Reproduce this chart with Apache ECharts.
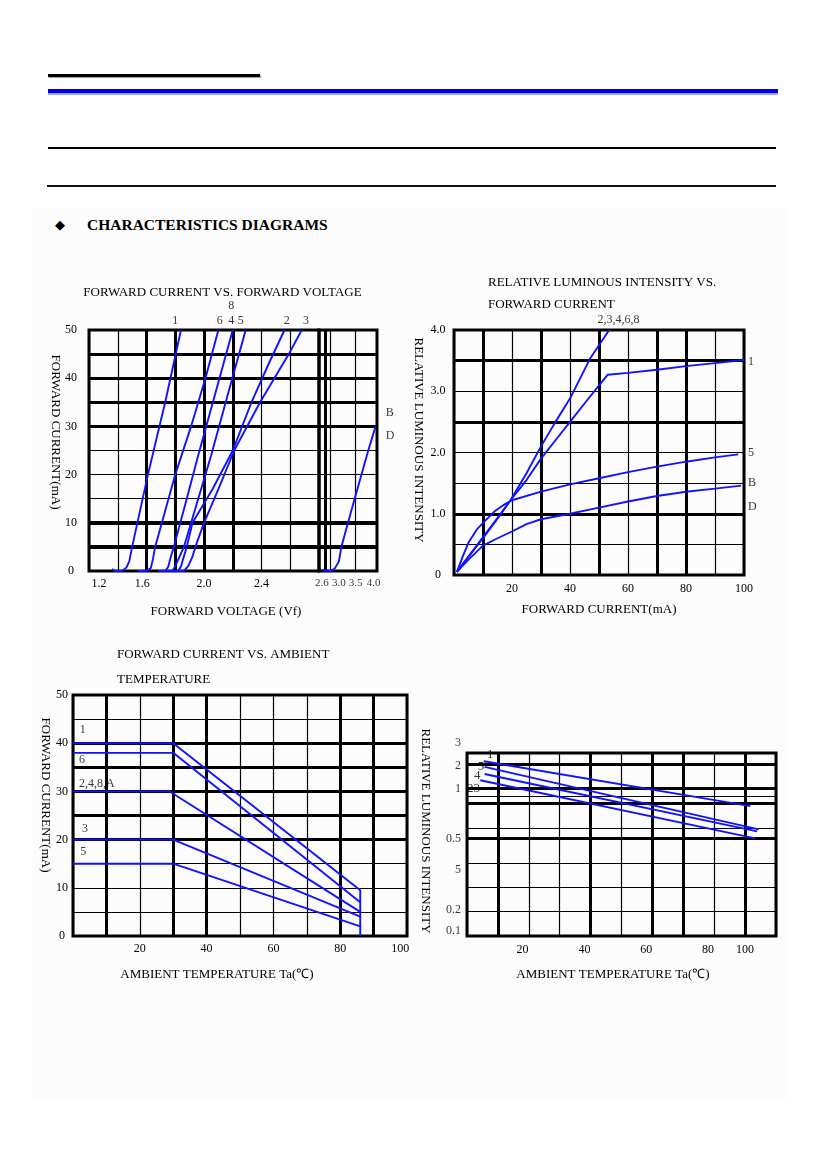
<!DOCTYPE html>
<html>
<head>
<meta charset="utf-8">
<script src="https://cdn.jsdelivr.net/npm/echarts@6/dist/echarts.min.js"></script>
<style>
html, body { margin: 0; padding: 0; background: #fff; }
#page { position: relative; width: 826px; height: 1169px; overflow: hidden; }
.bar { position: absolute; }
#heading { position: absolute; left: 87px; top: 216px; font: bold 15.5px "Liberation Serif", "Times New Roman", serif; color: #000; }
#diamond { position: absolute; left: 55px; top: 217px; font: 13px "DejaVu Sans", sans-serif; color: #000; }
#chart { position: absolute; left: 0; top: 0; width: 826px; height: 1169px; }
</style>
</head>
<body>
<div id="page">
  <div class="bar" style="left:48px;top:74px;width:212px;height:3px;background:#000;box-shadow:1px 1px 1px #999"></div>
  <div class="bar" style="left:48px;top:89px;width:730px;height:4px;background:#0000ee"></div>
  <div class="bar" style="left:48px;top:93px;width:730px;height:2px;background:#a0a0ff"></div>
  <div class="bar" style="left:48px;top:147px;width:728px;height:2px;background:#000"></div>
  <div class="bar" style="left:47px;top:185px;width:729px;height:2px;background:#111"></div>
  <div class="bar" style="left:33px;top:208px;width:756px;height:890px;background:#fcfcfc"></div>
  <div id="diamond">◆</div>
  <div id="heading">CHARACTERISTICS DIAGRAMS</div>
  <div id="chart"></div>
</div>
<script>
// ---------- chart 1: forward current (mA) vs forward voltage (V) ----------
const vfCurve1  = [[1.36,0.4],[1.38,0],[1.43,0],[1.46,0.7],[1.48,2],[1.50,5],[1.61,20],[1.73,35],[1.84,50]];
const vfCurve6  = [[1.54,0],[1.60,0],[1.63,0.6],[1.645,2.5],[1.66,5],[1.80,20],[1.91,30],[2.01,40],[2.10,50]];
const vfCurve48 = [[1.68,0],[1.73,0],[1.75,0.8],[1.77,3],[1.79,5],[1.88,15],[1.96,24],[2.08,37],[2.20,50]];
const vfCurve5  = [[1.72,0],[1.78,0],[1.80,1],[1.83,3],[1.86,5],[1.96,15],[2.05,24],[2.16,36],[2.29,50]];
const vfCurve2  = [[1.76,0],[1.82,0],[1.84,1],[1.86,3],[1.88,5],[1.92,10],[2.06,17],[2.20,25],[2.33,35],[2.45,43],[2.56,50]];
const vfCurve3  = [[1.80,0],[1.86,0],[1.89,1],[1.92,3],[1.94,5],[2.00,10],[2.10,17],[2.21,25],[2.39,35],[2.59,45],[2.68,50]];
const vfCurveBD = [[2.55,0.2],[2.60,0],[2.80,0],[2.92,0.5],[3.04,2],[3.11,5],[3.30,10],[3.49,15],[3.88,25],[4.09,30]];
// the voltage axis is broken: left part 1.2-2.8, right part 2.47-4.13
const vfTickText  = ['1.2','1.6','2.0','2.4'];
const vfTickAt    = [1.27,1.57,2.0,2.4];
const vfTickTextB = ['2.6','3.0','3.5','4.0'];
const vfTickAtB   = [2.55,3.04,3.52,4.03];
const vfThickV  = [1.6,1.8,2.0,2.2];
const vfThickVB = [2.64];
const vfThinVB  = [2.8,3.5];
const vfThickH  = [30,35,40,45];
const vfHeavyH  = [5,10];
const vfTags  = [['1',1.80,52],['6',2.11,52],['4',2.19,52],['5',2.255,52],['2',2.575,52],['3',2.71,52],['8',2.19,55]];
const vfTagsB = [['B',4.38,32.8],['D',4.38,28]];

// ---------- chart 2: relative luminous intensity vs forward current (mA) ----------
const ifLum23468 = [[1,0.05],[5,0.3],[10,0.62],[15,0.93],[19.5,1.22],[25,1.66],[30,2.1],[35,2.5],[40,2.88],[47,3.54],[53.5,4.0]];
const ifLum1 = [[1,0.05],[5,0.3],[10,0.6],[15,0.92],[19.5,1.22],[25,1.55],[30,1.9],[35,2.2],[40,2.5],[45,2.8],[53,3.27],[60,3.3],[70,3.35],[80,3.41],[90,3.46],[100,3.51]];
const ifLum5 = [[1,0.05],[3,0.3],[5,0.53],[8,0.75],[10,0.85],[14,1.04],[17,1.14],[20,1.22],[30,1.36],[40,1.48],[50,1.58],[60,1.68],[70,1.77],[80,1.85],[90,1.92],[98,1.97]];
const ifLumBD = [[1,0.05],[5,0.25],[10,0.48],[15,0.6],[20,0.71],[25,0.83],[30,0.91],[40,1.0],[50,1.1],[60,1.2],[70,1.29],[80,1.36],[90,1.41],[99,1.46]];
const ifThickV = [10,30,50,70,80];
const ifThickH = [1.0,2.5,3.5];
const ifTagsCenter = [['2,3,4,6,8',56.7,4.16]];
const ifTagsLeft = [['1',101.4,3.48],['5',101.4,1.99],['B',101.4,1.51],['D',101.4,1.11]];

// ---------- chart 3: forward current (mA) vs ambient temperature (C) ----------
const taCur1    = [[0,40],[30,40],[86,9.5],[86,0]];
const taCur6    = [[0,38],[30,38],[86,7]];
const taCur248A = [[0,30],[29,30],[30,29.5],[86,5]];
const taCur3    = [[0,20],[30,20],[86,4]];
const taCur5    = [[0,15],[30,15],[86,2]];
const taThickV = [10,30,40,80,90];
const taThickH = [20,25,30,35,40];
const taTickText = ['20','40','60','80','100'];
const taTickAt   = [20,40,60,80,98];
const taTags = [['1',2.0,42.7],['6',1.8,36.5],['2,4,8,A',1.8,31.5],['3',2.7,22.3],['5',2.2,17.5]];

// ---------- chart 4: relative luminous intensity vs ambient temperature (C) ----------
const ambLum1  = [[5.4,2.13],[91.7,0.82]];
const ambLum5  = [[5.7,1.88],[94.4,0.59]];
const ambLum4  = [[5.7,1.58],[93.9,0.57]];
const ambLum23 = [[4.3,1.32],[93.3,0.50]];
// the printed intensity scale is irregular: intensity stops and their grid rows
const lumStops = [0.1,0.2,0.5,1,2,3];
const lumRows  = [0,1,4,6.07,7.05,7.9];
const lumTickText = ['3','2','1','0.5','5','0.2','0.1'];
const lumTickRow  = [7.9,6.97,6.05,4.0,2.71,1.09,0.21];
const lumThickRow = [7.05,6.07,5.45,4.0];
const lumThinRow  = [5.73,4.4,3,2,1];
const ambThickV = [10,40,60,70,90];
const ambTickText = ['20','40','60','80','100'];
const ambTickAt   = [18,38,58,78,90];
const ambTags = [['1',7.5,7.43],['5',4.5,6.96],['4',3.3,6.59],['23',2.1,6.03]];

// ---------- drawing ----------
const SERIF = '"Liberation Serif", "Times New Roman", serif';
const BLUE = '#1212ff';
const tickFont = { color: '#000', fontSize: 12, fontFamily: SERIF };

function toRow(v) {
  for (let i = 1; i < lumStops.length; i++) {
    if (v <= lumStops[i]) {
      const f = (v - lumStops[i - 1]) / (lumStops[i] - lumStops[i - 1]);
      return lumRows[i - 1] + f * (lumRows[i] - lumRows[i - 1]);
    }
  }
  return lumRows[lumRows.length - 1];
}
function pick(values, texts) {
  return function (v) {
    for (let i = 0; i < values.length; i++) if (Math.abs(values[i] - v) < 1e-6) return texts[i];
    return '';
  };
}
function curve(data, gi) {
  return { type: 'line', xAxisIndex: gi, yAxisIndex: gi, data: data, symbol: 'none', z: 10, silent: true,
    lineStyle: { color: BLUE, width: 1.9 } };
}
function lines(gi, xs, ys, w) {
  return { type: 'line', xAxisIndex: gi, yAxisIndex: gi, data: [], symbol: 'none', silent: true, z: 4,
    markLine: { silent: true, symbol: ['none', 'none'], label: { show: false }, z: 4,
      lineStyle: { color: '#000', width: w, type: 'solid' },
      emphasis: { disabled: true },
      data: xs.map(v => ({ xAxis: v })).concat(ys.map(v => ({ yAxis: v }))) } };
}
function tags(list, gi, align, pos, size) {
  const p = pos || 'inside';
  const lab = { show: true, position: p, distance: p === 'bottom' ? 7 : 6, align: align,
    formatter: q => q.name, color: '#000', fontSize: size || 12, fontFamily: SERIF };
  if (p !== 'bottom') lab.verticalAlign = 'middle';
  return { type: 'scatter', xAxisIndex: gi, yAxisIndex: gi, symbolSize: 0.1, silent: true, z: 12, clip: false,
    itemStyle: { color: 'transparent' },
    data: list.map(t => ({ value: [t[1], t[2]], name: t[0] })),
    label: lab, labelLayout: { hideOverlap: false } };
}
function gridBox(left, top, width, height) {
  return { left: left, top: top, width: width, height: height, show: true, borderColor: '#000', borderWidth: 3,
    backgroundColor: 'transparent', containLabel: false, outerBoundsMode: 'none' };
}
const thin = { show: true, lineStyle: { color: '#000', width: 1.2 } };
const noAxis = { axisLine: { show: false }, axisTick: { show: false } };

const xAxes = [
  Object.assign({ gridIndex: 0, type: 'value', min: 1.2, max: 2.8, interval: 0.2, splitLine: thin,
    axisLabel: Object.assign({ margin: 7, customValues: vfTickAt, formatter: pick(vfTickAt, vfTickText) }, tickFont) }, noAxis),
  Object.assign({ gridIndex: 1, type: 'value', min: 2.47, max: 4.13, splitLine: { show: false },
    axisLabel: { show: false } }, noAxis),
  Object.assign({ gridIndex: 2, type: 'value', min: 0, max: 100, interval: 10, splitLine: thin,
    axisLabel: Object.assign({ margin: 8, formatter: v => (v > 0 && v % 20 === 0 ? String(v) : '') }, tickFont) }, noAxis),
  Object.assign({ gridIndex: 3, type: 'value', min: 0, max: 100, interval: 10, splitLine: thin,
    axisLabel: Object.assign({ margin: 7, customValues: taTickAt, formatter: pick(taTickAt, taTickText) }, tickFont) }, noAxis),
  Object.assign({ gridIndex: 4, type: 'value', min: 0, max: 100, interval: 10, splitLine: thin,
    axisLabel: Object.assign({ margin: 8, customValues: ambTickAt, formatter: pick(ambTickAt, ambTickText) }, tickFont) }, noAxis)
];
const yAxes = [
  Object.assign({ gridIndex: 0, type: 'value', min: 0, max: 50, interval: 5, splitLine: thin,
    axisLabel: Object.assign({ align: 'center', margin: 18, formatter: v => (v % 10 === 0 ? String(v) : '') }, tickFont) }, noAxis),
  Object.assign({ gridIndex: 1, type: 'value', min: 0, max: 50, interval: 5, splitLine: thin,
    axisLabel: { show: false } }, noAxis),
  Object.assign({ gridIndex: 2, type: 'value', min: 0, max: 4, interval: 0.5, splitLine: thin,
    axisLabel: Object.assign({ align: 'center', margin: 16,
      formatter: v => (Math.abs(v - Math.round(v)) < 1e-6 ? (v === 0 ? '0' : v.toFixed(1)) : '') }, tickFont) }, noAxis),
  Object.assign({ gridIndex: 3, type: 'value', min: 0, max: 50, interval: 5, splitLine: thin,
    axisLabel: Object.assign({ align: 'center', margin: 11, formatter: v => (v % 10 === 0 ? String(v) : '') }, tickFont) }, noAxis),
  Object.assign({ gridIndex: 4, type: 'value', min: 0, max: 7.5, splitLine: { show: false },
    axisLabel: { show: false } }, noAxis)
];

const series = [
  lines(0, vfThickV, vfThickH, 3), lines(0, [], vfHeavyH, 4),
  lines(1, vfThickVB, vfThickH, 3), lines(1, [], vfHeavyH, 4), lines(1, vfThinVB, [], 1.2),
  lines(2, ifThickV, ifThickH, 3),
  lines(3, taThickV, taThickH, 3),
  lines(4, ambThickV, lumThickRow, 3), lines(4, [], lumThinRow, 1.2),

  curve(vfCurve1, 0), curve(vfCurve6, 0), curve(vfCurve48, 0), curve(vfCurve5, 0), curve(vfCurve2, 0), curve(vfCurve3, 0),
  curve(vfCurveBD, 1),
  curve(ifLum23468, 2), curve(ifLum1, 2), curve(ifLum5, 2), curve(ifLumBD, 2),
  curve(taCur1, 3), curve(taCur6, 3), curve(taCur248A, 3), curve(taCur3, 3), curve(taCur5, 3),
  curve(ambLum1.map(p => [p[0], toRow(p[1])]), 4),
  curve(ambLum5.map(p => [p[0], toRow(p[1])]), 4),
  curve(ambLum4.map(p => [p[0], toRow(p[1])]), 4),
  curve(ambLum23.map(p => [p[0], toRow(p[1])]), 4),

  tags(vfTags, 0, 'center'), tags(vfTagsB, 1, 'left'),
  tags(vfTickTextB.map((t, i) => [t, vfTickAtB[i], 0]), 1, 'center', 'bottom', 11),
  tags(ifTagsCenter, 2, 'center'), tags(ifTagsLeft, 2, 'left'),
  tags(taTags, 3, 'left'),
  tags(ambTags, 4, 'center', 'inside', 13),
  tags(lumTickText.map((t, i) => [t, 0, lumTickRow[i]]), 4, 'right', 'left')
];

function label(text, x, y, align, rot) {
  return { type: 'text', x: x, y: y, rotation: rot || 0, silent: true, z: 20,
    style: { text: text, align: align, textAlign: align, verticalAlign: 'middle', textVerticalAlign: 'middle',
      font: '13px ' + SERIF, fill: '#000' } };
}
const V = -Math.PI / 2;
const graphics = [
  label('FORWARD CURRENT VS. FORWARD VOLTAGE', 222.5, 293, 'center'),
  label('FORWARD VOLTAGE (Vf)', 226, 612, 'center'),
  label('FORWARD CURRENT(mA)', 55, 432, 'center', V),
  label('RELATIVE LUMINOUS INTENSITY VS.', 488, 283, 'left'),
  label('FORWARD CURRENT', 488, 305, 'left'),
  label('FORWARD CURRENT(mA)', 599, 610, 'center'),
  label('RELATIVE LUMINOUS INTENSITY', 418, 440, 'center', V),
  label('FORWARD CURRENT VS. AMBIENT', 117, 655, 'left'),
  label('TEMPERATURE', 117, 680, 'left'),
  label('FORWARD CURRENT(mA)', 45, 795, 'center', V),
  label('AMBIENT TEMPERATURE Ta(℃)', 217, 975, 'center'),
  label('RELATIVE LUMINOUS INTENSITY', 425, 831, 'center', V),
  label('AMBIENT TEMPERATURE Ta(℃)', 613, 975, 'center')
];

const chart = echarts.init(document.getElementById('chart'), null, { renderer: 'canvas' });
chart.setOption({
  backgroundColor: 'transparent',
  animation: false,
  textStyle: { fontFamily: SERIF },
  grid: [
    gridBox(89, 330, 230, 241),
    gridBox(319, 330, 58, 241),
    gridBox(454, 330, 290, 245),
    gridBox(73, 695, 334, 241),
    gridBox(467, 753, 309, 183)
  ],
  xAxis: xAxes,
  yAxis: yAxes,
  series: series,
  graphic: graphics
});
</script>
</body>
</html>
